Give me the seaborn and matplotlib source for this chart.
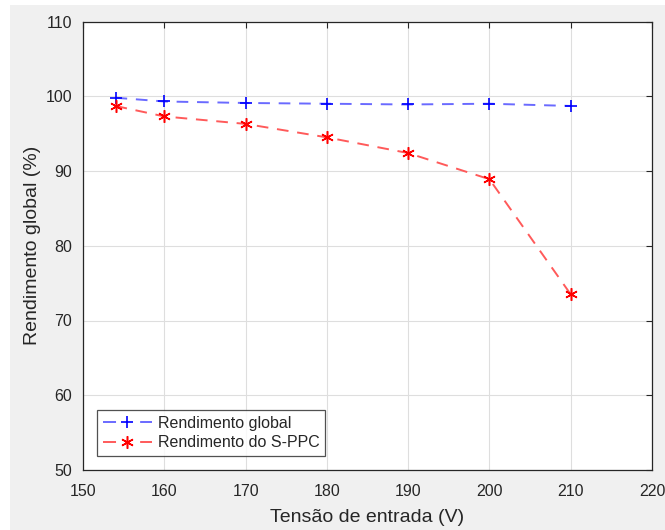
import matplotlib
matplotlib.use("Agg")
import matplotlib.pyplot as plt
from matplotlib.patches import Rectangle
import seaborn as sns
import pandas as pd

# Input voltage (V) and efficiencies (%)
tensao = [154, 160, 170, 180, 190, 200, 210]
rend_global = [99.8, 99.3, 99.1, 99.0, 98.9, 99.0, 98.7]
rend_sppc = [98.7, 97.3, 96.3, 94.5, 92.4, 88.9, 73.5]

x_ticks = [150, 160, 170, 180, 190, 200, 210, 220]
y_ticks = [50, 60, 70, 80, 90, 100, 110]

sns.set_style("whitegrid")
plt.rcParams['font.family'] = ['Liberation Sans', 'DejaVu Sans']

W, H = 665, 530
fig = plt.figure(figsize=(W / 100, H / 100), dpi=100, facecolor="#f0f0f0")
# thin white margin along the left and top edges of the window
fig.patches.append(Rectangle((0, 0), 10 / W, 1, transform=fig.transFigure,
                             facecolor="white", edgecolor="none", zorder=-1))
fig.patches.append(Rectangle((0, 1 - 5 / H), 1, 5 / H, transform=fig.transFigure,
                             facecolor="white", edgecolor="none", zorder=-1))

ax = fig.add_axes([83 / W, 1 - 470 / H, 569 / W, (470 - 21.5) / H])
ax.set_facecolor("white")

df_g = pd.DataFrame({"V": tensao, "R": rend_global})
df_s = pd.DataFrame({"V": tensao, "R": rend_sppc})

sns.lineplot(data=df_g, x="V", y="R", ax=ax, color="#6a6aff", linestyle="--",
             marker="+", markersize=9, markeredgewidth=1.2, linewidth=1.4,
             markeredgecolor="blue", markerfacecolor="blue",
             label="Rendimento global")
sns.lineplot(data=df_s, x="V", y="R", ax=ax, color="#ff5a5a", linestyle="--",
             marker=(6, 2, 0), markersize=9, markeredgewidth=1.1, linewidth=1.4,
             markeredgecolor="red", markerfacecolor="red",
             label="Rendimento do S-PPC")
for ln in ax.lines:
    ln.set_dashes([6, 4.5])

ax.set_xlim(150, 220)
ax.set_ylim(50, 110)
ax.set_xticks(x_ticks)
ax.set_yticks(y_ticks)
ax.grid(True, color="#dedede", linewidth=0.8)
ax.tick_params(direction="in", length=4, top=True, right=True,
               labelsize=11.5, colors="#262626")
ax.tick_params(axis="x", pad=10)
ax.tick_params(axis="y", pad=8)
for s in ax.spines.values():
    s.set_color("#262626")
    s.set_linewidth(0.9)
    s.set_visible(True)

ax.set_xlabel("Tensão de entrada (V)", fontsize=14, color="#262626", labelpad=7)
ax.set_ylabel("Rendimento global (%)", fontsize=14, color="#262626", labelpad=3)

leg = ax.legend(loc="lower left", bbox_to_anchor=(14 / 569, 14 / 448.5), fontsize=11.5,
                frameon=True, fancybox=False, handlelength=3.1,
                borderpad=0.35, labelspacing=0.3, handletextpad=0.35,
                borderaxespad=0.0)
leg.get_frame().set_edgecolor("#262626")
leg.get_frame().set_linewidth(0.9)
for h in leg.get_lines():
    h.set_dashes([6.7, 12.4])

fig.savefig("out.png", dpi=100, facecolor=fig.get_facecolor())
